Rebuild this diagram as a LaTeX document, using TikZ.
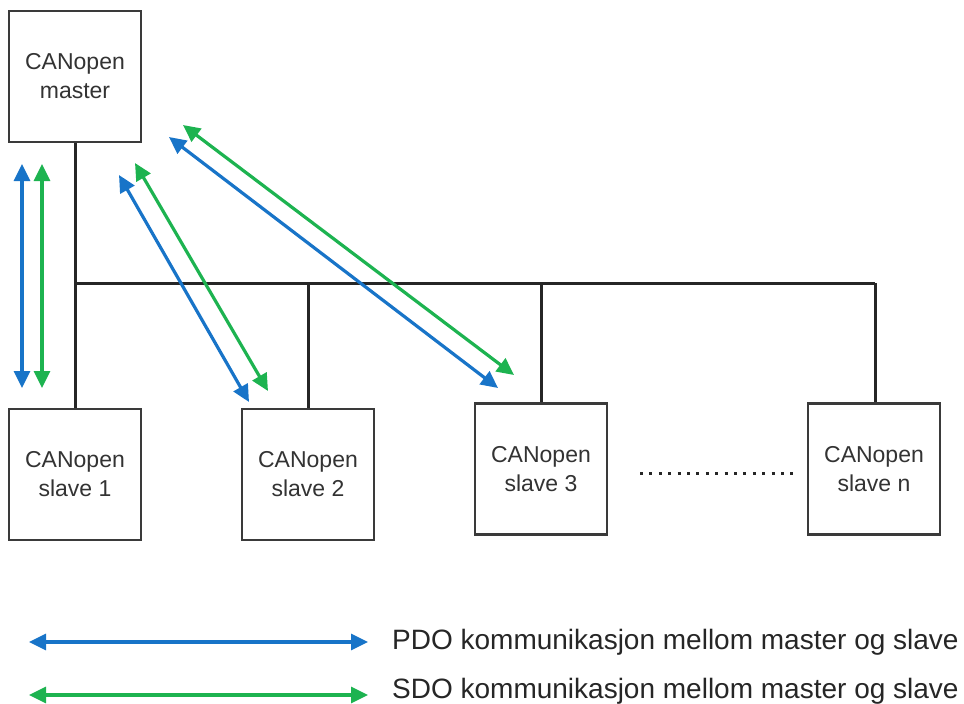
\documentclass[tikz,border=0pt]{standalone}
\usepackage{fontspec}
\setmainfont{Liberation Sans}
\usetikzlibrary{arrows.meta}
\definecolor{pdoblue}{HTML}{1874C8}
\definecolor{sdogreen}{HTML}{1DB350}
\definecolor{boxgray}{HTML}{3A3A3A}
\begin{document}
\begin{tikzpicture}[x=1pt,y=-1pt,
  unit/.style={draw=boxgray,line width=2.6pt,fill=white,minimum width=132pt,minimum height=131pt,
    align=center,inner sep=0pt,font=\fontsize{23}{29}\selectfont,text=black!80},
  bus/.style={line width=3pt,draw=black!85},
  link/.style={line width=3.2pt,{Triangle[length=17pt,width=16pt]}-{Triangle[length=17pt,width=16pt]}},
  pdo/.style={link,draw=pdoblue,fill=pdoblue},
  sdo/.style={link,draw=sdogreen,fill=sdogreen},
  legendtext/.style={anchor=west,inner sep=0pt,font=\fontsize{28}{33}\selectfont,text=black!85}]
\useasboundingbox (0,0) rectangle (964,704);

% bus wiring
\coordinate (b1) at (75,283);
\coordinate (b2) at (308,283);
\coordinate (b3) at (541,283);
\coordinate (bn) at (875,283);

\node[unit] (master) at (75,76.5) {CANopen\\master};
\node[unit] (s1) at (75,474.5) {CANopen\\slave 1};
\node[unit] (s2) at (308,474.5) {CANopen\\slave 2};
\node[unit] (s3) at (541,469) {CANopen\\slave 3};
\node[unit] (sn) at (874,469) {CANopen\\slave n};

\draw[bus] (master.south) -- (s1.north);
\draw[bus] (b1) -- (bn);
\draw[bus] (b2) -- (b2 |- s2.north);
\draw[bus] (b3) -- (b3 |- s3.north);
\draw[bus] (bn) -- (bn |- sn.north);

\coordinate (dl) at (640,473);
\coordinate (dr) at (798,473);
\draw[line width=3pt,dash pattern=on 3pt off 6.4pt,draw=black!85] (dl) -- (dr);

% PDO / SDO links to the slaves
\coordinate (p1a) at (22,164);  \coordinate (p1b) at (22,388);
\coordinate (q1a) at (42,164);  \coordinate (q1b) at (42,388);
\coordinate (p2a) at (119,175); \coordinate (p2b) at (249,402);
\coordinate (q2a) at (135,163); \coordinate (q2b) at (268,391);
\coordinate (p3a) at (169,137); \coordinate (p3b) at (498,388);
\coordinate (q3a) at (183,125); \coordinate (q3b) at (514,375);
\draw[pdo] (p1a) -- (p1b);
\draw[sdo] (q1a) -- (q1b);
\draw[pdo] (p2a) -- (p2b);
\draw[sdo] (q2a) -- (q2b);
\draw[pdo] (p3a) -- (p3b);
\draw[sdo] (q3a) -- (q3b);

% legend
\coordinate (lpa) at (29,642); \coordinate (lpb) at (368,642);
\coordinate (lsa) at (29,695); \coordinate (lsb) at (368,695);
\draw[pdo] (lpa) -- (lpb);
\draw[sdo] (lsa) -- (lsb);
\node[legendtext] (lpdo) at (392,642) {PDO kommunikasjon mellom master og slave};
\node[legendtext] (lsdo) at (392,691) {SDO kommunikasjon mellom master og slave};
\end{tikzpicture}
\end{document}
